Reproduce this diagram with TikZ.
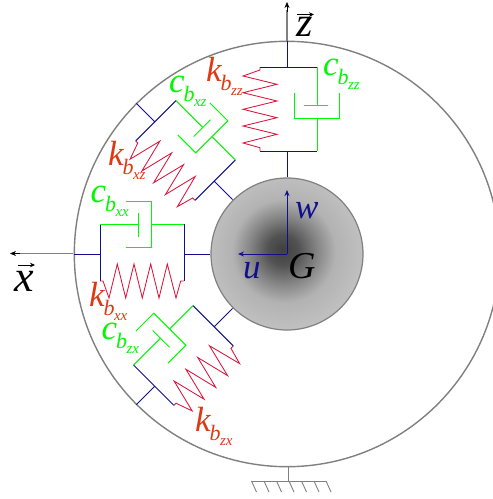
\documentclass[tikz,border=0pt]{standalone}
\usepackage{fontspec}
\setmainfont{Liberation Serif}
\usetikzlibrary{arrows.meta}
\definecolor{nv}{HTML}{10108C}
\definecolor{rd}{HTML}{DC143C}
\definecolor{gn}{HTML}{00F800}
\definecolor{kc}{HTML}{DD3A12}
\definecolor{axg}{HTML}{808080}
\pgfdeclareradialshading{ball}{\pgfpoint{-1.5bp}{1.5bp}}{%
 color(0bp)=(black!75);color(5bp)=(black!68);color(11bp)=(black!48);color(17bp)=(black!30);color(25bp)=(black!25);color(50bp)=(black!25)}
\newcommand{\lbl}[3]{{\fontsize{35}{35}\selectfont\itshape #1}\kern-1pt\raisebox{-9pt}{\fontsize{22}{22}\selectfont\itshape b\kern-.5pt\raisebox{-5pt}{\fontsize{15}{15}\selectfont #2}}}
\tikzset{
 blueline/.style={nv,line width=1pt},
 redline/.style={rd,line width=0.85pt,line join=miter},
 greenline/.style={gn,line width=1pt},
 shell/.style={draw=axg,line width=1.4pt},
 lab/.style={anchor=base west,inner sep=0pt,outer sep=0pt},
 axisline/.style={axg,line width=1.2pt},
 vecarrow/.style={black,line width=0.7pt,-{Stealth[length=5pt,width=4.5pt]}},
 tipped/.style={-{Stealth[length=6pt,width=5pt]}},
}
\begin{document}
\begin{tikzpicture}[x=1pt,y=-1pt]
\useasboundingbox (0,0) rectangle (493,499);
\fill[white] (0,0) rectangle (493,499);
% axes
\coordinate (G) at (287,254);
\coordinate (zt) at (287,2);
\coordinate (xt) at (10,253.5);
\draw[axisline] (287,41) -- (287,10);
\draw[black,line width=.6pt,tipped] (287,12) -- (zt);
\draw[axisline] (73,253.5) -- (18,253.5);
\draw[black,line width=.6pt,tipped] (20,253.5) -- (xt);
% shell
\draw[shell] (G) circle[radius=212.7];
% spring/damper units
\foreach \a in {0,45,90,135}{
 \begin{scope}[shift={(G)},rotate=\a]
  \draw[blueline] (0,-213) -- (0,-187) (-27,-187) -- (30,-187);
  \draw[blueline] (-27,-103) -- (30,-103) (0,-103) -- (0,-77);
  \draw[redline] (-27,-187) -- (-27,-184) -- (-44,-178) -- (-10,-169.7) -- (-44,-161.3) -- (-10,-153) -- (-44,-144.7) -- (-10,-136.3) -- (-44,-128) -- (-10,-119.7) -- (-44,-111) -- (-27,-106.3) -- (-27,-103);
  \draw[greenline] (30,-187) -- (30,-149) (17,-149) -- (41,-149);
  \draw[greenline] (7,-161.3) -- (7,-136) -- (52.3,-136) -- (52.3,-161.3);
  \draw[greenline] (30,-136) -- (30,-103);
 \end{scope}
}
% mass
\shade[shading=ball] (G) circle[radius=76];
\draw[draw=axg,line width=1.2pt] (G) circle[radius=76];
\draw[blueline,tipped] (G) -- (287,190) coordinate (wt);
\draw[blueline,tipped] (G) -- (238,254) coordinate (ut);
% ground
\draw[axisline,line width=1pt] (288,466) -- (288,481);
\draw[axisline,line width=1pt] (251.5,481) -- (326,481);
\foreach \x in {251.5,264,276.5,289,301.5,314,326}{
 \draw[axg,line width=.9pt] (\x,481) -- ++(5,11);
}
% labels
\node[lab,text=kc] (kzz) at (206,81) {\lbl{k}{zz}{}};
\node[lab,text=gn] (czz) at (323,75) {\lbl{c}{zz}{}};
\node[lab,text=gn] (cxz) at (169,92) {\lbl{c}{xz}{}};
\node[lab,text=kc] (kxz) at (108,165) {\lbl{k}{xz}{}};
\node[lab,text=gn] (cxx) at (90.5,202.7) {\lbl{c}{xx}{}};
\node[lab,text=kc] (kxx) at (89,306) {\lbl{k}{xx}{}};
\node[lab,text=gn] (czx) at (101.5,339) {\lbl{c}{zx}{}};
\node[lab,text=kc] (kzx) at (195,431.5) {\lbl{k}{zx}{}};
\node[lab,text=black] (gl) at (288,278) {\fontsize{38}{38}\selectfont\itshape G};
\node[lab,text=nv] (ul) at (243,278) {\fontsize{35}{35}\selectfont\itshape u};
\node[lab,text=nv] (wl) at (295,218) {\fontsize{35}{35}\selectfont\itshape w};
\node[lab,text=black] (zl) at (296,36) {\fontsize{42}{42}\selectfont\itshape z};
\node[lab,text=black] (xl) at (15,291) {\fontsize{44}{44}\selectfont\itshape x};
\draw[vecarrow] (297,14.5) -- (314,14.5);
\draw[vecarrow] (18,265) -- (35,265);
\end{tikzpicture}
\end{document}
